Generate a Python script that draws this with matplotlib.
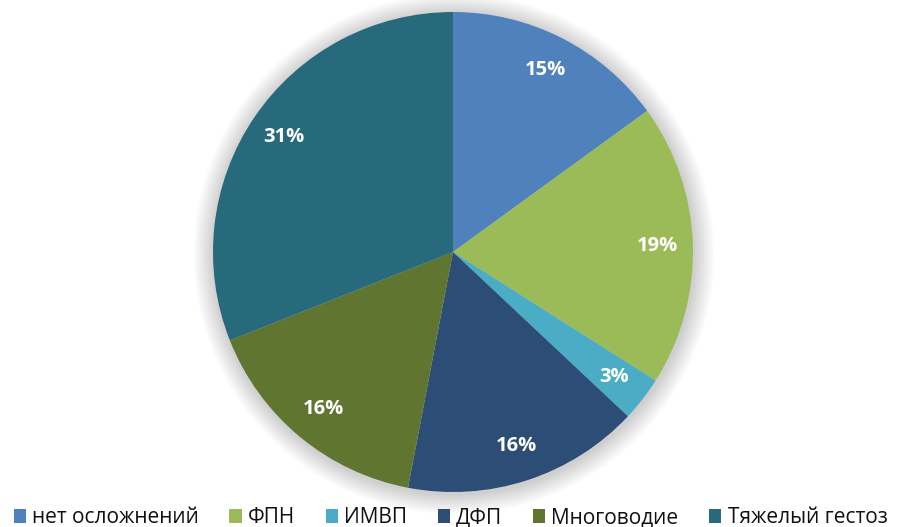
import numpy as np
import matplotlib.pyplot as plt
from matplotlib.patches import Circle

plt.rcParams['font.family'] = ['Open Sans', 'DejaVu Sans']

# --- datos ---
categorias = ['нет осложнений', 'ФПН', 'ИМВП', 'ДФП', 'Многоводие', 'Тяжелый гестоз']
valores = [15, 19, 3, 16, 16, 31]
colores = ['#4F81BD', '#9BBB59', '#4BACC6', '#2C4D75', '#5F7530', '#276A7C']

fig = plt.figure(figsize=(9.01, 5.27), dpi=100)
fig.patch.set_facecolor('white')

# ejes con el círculo centrado en (453, 252) px, radio 240 px
W, H = 901, 527
cx, cy, r = 453, 252, 240
ax = fig.add_axes([(cx - r) / W, (H - cy - r) / H, 2 * r / W, 2 * r / H])
ax.set_xlim(-1, 1)
ax.set_ylim(-1, 1)
ax.axis('off')

# sombra suave alrededor del pastel
for k in range(12):
    ax.add_patch(Circle((0.004, -0.008), 1.0 + 0.007 * (k + 1), color='black',
                        alpha=0.014, lw=0, zorder=0, clip_on=False))

wedges, _, autotexts = ax.pie(
    valores, colors=colores, startangle=90, counterclock=False,
    autopct='%1.0f%%', pctdistance=0.85, radius=1.0,
    wedgeprops=dict(linewidth=0, zorder=2),
    textprops=dict(color='white', fontsize=14.5, fontweight='bold'),
)
for t in autotexts:
    t.set_zorder(5)
ax.set_xlim(-1, 1)
ax.set_ylim(-1, 1)
ax.set_aspect('auto')

fig.legend(wedges, categorias, loc='lower center', bbox_to_anchor=(0.5, -0.038),
           ncol=6, frameon=False, fontsize=15, handlelength=0.6, handleheight=0.6,
           handletextpad=0.3, columnspacing=1.45, labelcolor='#111111')

plt.savefig('out.png', dpi=100, facecolor='white')
